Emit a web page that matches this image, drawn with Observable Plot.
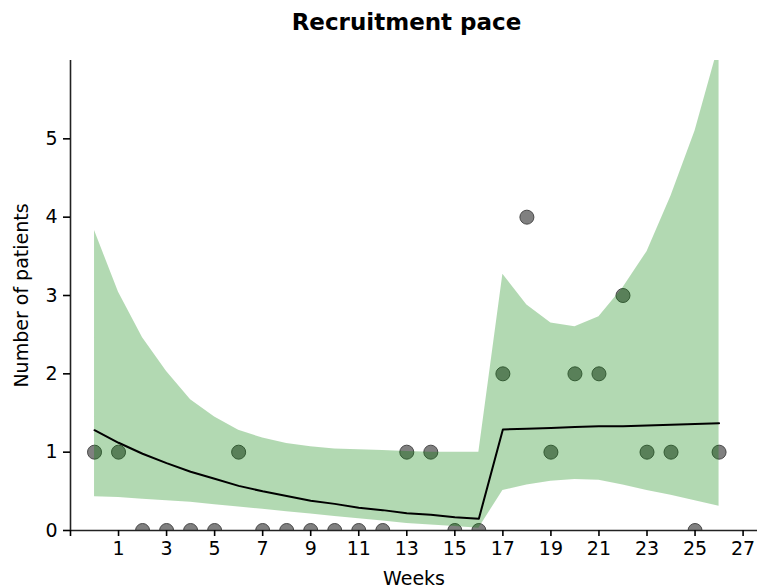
<!DOCTYPE html>
<html>
<head>
<meta charset="utf-8">
<script src="https://cdn.jsdelivr.net/npm/d3@7"></script>
<script src="https://cdn.jsdelivr.net/npm/@observablehq/plot@0.6"></script>
<style>
  html, body { margin: 0; padding: 0; background: #fff; }
  #wrap { width: 759px; height: 588px; position: relative; }
  #title { position: absolute; left: 0; top: 0; width: 759px; height: 50px; box-sizing: border-box;
    padding-left: 54px; text-align: center; font-family: "DejaVu Sans", sans-serif; font-weight: bold;
    font-size: 23px; line-height: 23px; padding-top: 11px; color: #000; }
  #chart { position: absolute; left: 0; top: 50px; }
</style>
</head>
<body>
<div id="wrap">
  <div id="title">Recruitment pace</div>
  <div id="chart"></div>
</div>
<script>
// Observed weekly recruitment
const weeks = [0,1,2,3,4,5,6,7,8,9,10,11,12,13,14,15,16,17,18,19,20,21,22,23,24,25,26];
const patients = [1,1,0,0,0,0,1,0,0,0,0,0,0,1,1,0,0,2,4,1,2,2,3,1,1,0,1];
// Fitted mean and interval
const fitMean = [1.28,1.12,0.98,0.86,0.75,0.66,0.57,0.50,0.44,0.38,0.34,0.29,0.26,0.22,0.20,0.17,0.15,
                 1.29,1.30,1.31,1.32,1.33,1.33,1.34,1.35,1.36,1.37];
const fitUpper = [3.83,3.04,2.46,2.03,1.67,1.45,1.28,1.18,1.11,1.07,1.04,1.03,1.02,1.01,1.00,1.00,1.00,
                  3.27,2.88,2.65,2.60,2.73,3.10,3.56,4.27,5.10,6.20];
const fitLower = [0.43,0.42,0.40,0.38,0.36,0.33,0.30,0.27,0.24,0.21,0.18,0.15,0.12,0.09,0.07,0.05,0.03,
                  0.51,0.58,0.63,0.65,0.64,0.58,0.51,0.45,0.38,0.31];
const xTicks = [-1,1,3,5,7,9,11,13,15,17,19,21,23,25,27];
const yTicks = [0,1,2,3,4,5];

const obs = weeks.map((w, i) => ({week: w, n: patients[i]}));
const fit = weeks.map((w, i) => ({week: w, mean: fitMean[i], lo: fitLower[i], hi: fitUpper[i]}));

const chart = Plot.plot({
  width: 759,
  height: 538,
  marginLeft: 70,
  marginRight: 2,
  marginTop: 10,
  marginBottom: 58,
  x: {domain: [-1, 27.6]},
  y: {domain: [0, 6]},
  style: {fontFamily: "DejaVu Sans, sans-serif", fontSize: "19px", color: "#000", background: "#fff"},
  marks: [
    Plot.dot(obs, {x: "week", y: "n", r: 7, fill: "#808080", stroke: "#4a4a4a", strokeWidth: 1, clip: true}),
    Plot.areaY(fit, {x: "week", y1: "lo", y2: "hi", fill: "#008000", fillOpacity: 0.3, clip: true}),
    Plot.lineY(fit, {x: "week", y: "mean", stroke: "#000", strokeWidth: 2}),
    Plot.ruleY([0], {stroke: "#222", strokeWidth: 1.6}),
    Plot.ruleX([-1], {stroke: "#222", strokeWidth: 1.6}),
    Plot.axisX({ticks: xTicks, tickSize: 6, tickPadding: 5, strokeWidth: 1.6, fontSize: 19,
      tickFormat: d => d === -1 ? "" : String(d),
      label: "Weeks", labelAnchor: "center", labelArrow: "none", labelOffset: 54}),
    Plot.axisY({ticks: yTicks, tickSize: 7, tickPadding: 6, strokeWidth: 1.6, fontSize: 19,
      tickFormat: d3.format("d"),
      label: "Number of patients", labelAnchor: "center", labelArrow: "none", labelOffset: 56})
  ]
});
document.getElementById("chart").appendChild(chart);
</script>
</body>
</html>
